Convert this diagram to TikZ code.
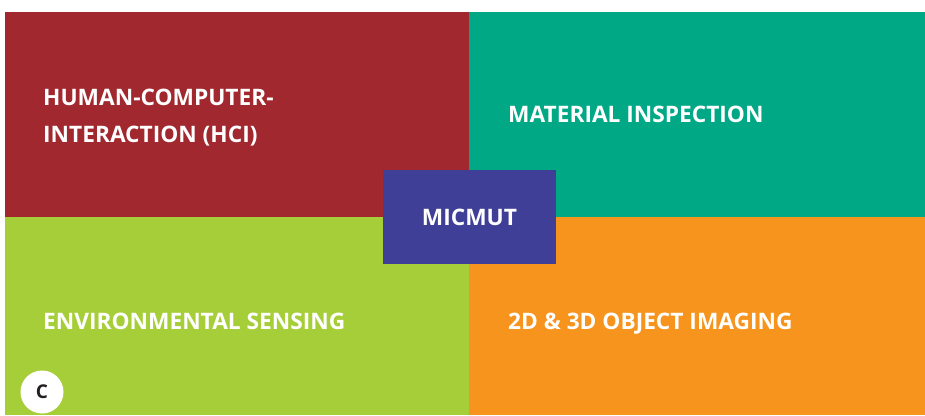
\documentclass[tikz,border=0pt]{standalone}
\usepackage{fontspec}
\setmainfont{Open Sans}
\definecolor{cred}{HTML}{A0282E}
\definecolor{cgreen}{HTML}{00A886}
\definecolor{clime}{HTML}{A6CE39}
\definecolor{corange}{HTML}{F7941D}
\definecolor{cpurple}{HTML}{3F3F98}
\definecolor{cdark}{HTML}{231F20}
\begin{document}
\begin{tikzpicture}[x=1pt,y=1pt,
  lbl/.style={text=white,font=\bfseries\fontsize{22.7}{27}\selectfont,inner sep=0pt}]
\useasboundingbox (0,0) rectangle (925,415);
\fill[white] (0,0) rectangle (925,415);
\fill[cred] (5,403) rectangle (469,198);
\fill[cgreen] (469,403) rectangle (925,198);
\fill[clime] (5,198) rectangle (469,0);
\fill[corange] (469,198) rectangle (925,0);
\node[fill=cpurple,minimum width=173pt,minimum height=94pt,inner sep=0pt] (mic) at (469.5,198) {};
\node[lbl] (micl) at (mic.center) {MICMUT};
\node[lbl,anchor=base west] (hci1) at (43,309) {HUMAN-COMPUTER-};
\node[lbl,anchor=base west] (hci2) at (43,272) {INTERACTION (HCI)};
\node[lbl,anchor=base west] (mat) at (508,292) {MATERIAL INSPECTION};
\node[lbl,anchor=base west] (env) at (43,86) {ENVIRONMENTAL SENSING};
\node[lbl,anchor=base west] (obj) at (508,86) {2D \& 3D OBJECT IMAGING};
\node[circle,fill=white,minimum size=43pt,inner sep=0pt,text=cdark,font=\bfseries\fontsize{19}{22}\selectfont] (c) at (42,23) {C};
\end{tikzpicture}
\end{document}
